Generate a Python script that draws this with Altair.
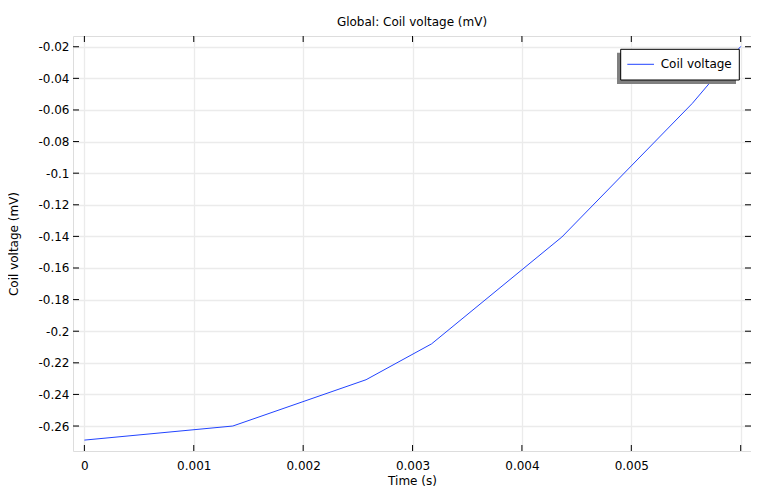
import altair as alt
import pandas as pd

# ---- data ----
time_s = [0.0, 0.001357, 0.002575, 0.003174, 0.004365, 0.005558, 0.006]
coil_mv = [-0.2689, -0.2600, -0.2307, -0.2080, -0.1404, -0.0558, -0.0198]
series_name = "Coil voltage"

x_ticks = [0.0, 0.001, 0.002, 0.003, 0.004, 0.005, 0.006]
x_labelled = [0.0, 0.001, 0.002, 0.003, 0.004, 0.005]
y_ticks = [-0.26, -0.24, -0.22, -0.20, -0.18, -0.16, -0.14, -0.12, -0.10,
           -0.08, -0.06, -0.04, -0.02]

x_domain = [-0.000104, 0.006094]
y_domain = [-0.2758, -0.0132]

W, H = 678, 415
FONT = "DejaVu Sans"
TICK = 6

line_df = pd.DataFrame({"t": time_s, "v": coil_mv, "series": series_name})
xt_df = pd.DataFrame({"t": x_ticks})
yt_df = pd.DataFrame({"v": y_ticks})
leg_df = pd.DataFrame({"series": [series_name]})

xs = alt.Scale(domain=x_domain, nice=False, zero=False)
ys = alt.Scale(domain=y_domain, nice=False, zero=False)

fmt = "replace(format(datum.value, '~g'), '\u2212', '-')"
x_label_expr = "indexof(" + str(x_labelled) + ", datum.value) >= 0 ? " + fmt + " : ''"

x_axis = alt.Axis(
    title="Time (s)", values=x_ticks, labelExpr=x_label_expr,
    grid=True, gridColor="#ebebeb", gridWidth=1.3,
    ticks=False, tickSize=0, domain=False,
    labelFont=FONT, labelFontSize=12, labelColor="#000000",
    labelBaseline="alphabetic", labelPadding=18, labelAlign="center",
    titleFont=FONT, titleFontSize=12, titleFontWeight="normal", titleColor="#000000",
    titleBaseline="alphabetic", titleY=33)
y_axis = alt.Axis(
    title="Coil voltage (mV)", values=y_ticks, labelExpr=fmt,
    grid=True, gridColor="#ebebeb", gridWidth=1.3,
    ticks=False, tickSize=0, domain=False,
    labelFont=FONT, labelFontSize=12, labelColor="#000000",
    labelPadding=4, labelBaseline="middle",
    titleFont=FONT, titleFontSize=12, titleFontWeight="normal", titleColor="#000000",
    titleBaseline="alphabetic", titleX=-56, titleY=H / 2, titleAngle=270)

line = alt.Chart(line_df).mark_line(color="#2244ff", strokeWidth=1).encode(
    x=alt.X("t:Q", scale=xs, axis=x_axis),
    y=alt.Y("v:Q", scale=ys, axis=y_axis),
)

# inward ticks on all four sides
bx = alt.Chart(xt_df).mark_rule(color="black", strokeWidth=1).encode(
    x=alt.X("t:Q", scale=xs, axis=x_axis), y=alt.value(H), y2=alt.value(H - TICK))
tx = alt.Chart(xt_df).mark_rule(color="black", strokeWidth=1).encode(
    x=alt.X("t:Q", scale=xs, axis=x_axis), y=alt.value(0), y2=alt.value(TICK))
ly = alt.Chart(yt_df).mark_rule(color="black", strokeWidth=1).encode(
    y=alt.Y("v:Q", scale=ys, axis=y_axis), x=alt.value(0), x2=alt.value(TICK))
ry = alt.Chart(yt_df).mark_rule(color="black", strokeWidth=1).encode(
    y=alt.Y("v:Q", scale=ys, axis=y_axis), x=alt.value(W), x2=alt.value(W - TICK))

# legend box with drop shadow
shadow = alt.Chart(leg_df).mark_rect(color="#808080").encode(
    x=alt.value(544), x2=alt.value(663), y=alt.value(16.7), y2=alt.value(48))
box = alt.Chart(leg_df).mark_rect(fill="white", stroke="black", strokeWidth=1).encode(
    x=alt.value(547.7), x2=alt.value(666.3), y=alt.value(13.3), y2=alt.value(44))
sym = alt.Chart(leg_df).mark_rule(color="#2244ff", strokeWidth=1).encode(
    x=alt.value(554.3), x2=alt.value(581), y=alt.value(28.3))
txt = alt.Chart(leg_df).mark_text(font=FONT, fontSize=12, align="left",
                                  baseline="alphabetic", color="#000000").encode(
    x=alt.value(587.7), y=alt.value(32.3), text="series:N")

chart = alt.layer(line, shadow, box, sym, txt, bx, tx, ly, ry).properties(
    width=W, height=H,
    title=alt.TitleParams("Global: Coil voltage (mV)", font=FONT, fontSize=12,
                          fontWeight="normal", color="#000000", anchor="middle",
                          offset=7, frame="group"),
    autosize=alt.AutoSizeParams(type="none"),
    padding={"left": 65, "top": 28, "right": 0, "bottom": 36},
).configure_view(stroke="black", strokeWidth=1).configure(background="white")

chart.save("out.html", embed_options={"renderer": "svg", "actions": False})
